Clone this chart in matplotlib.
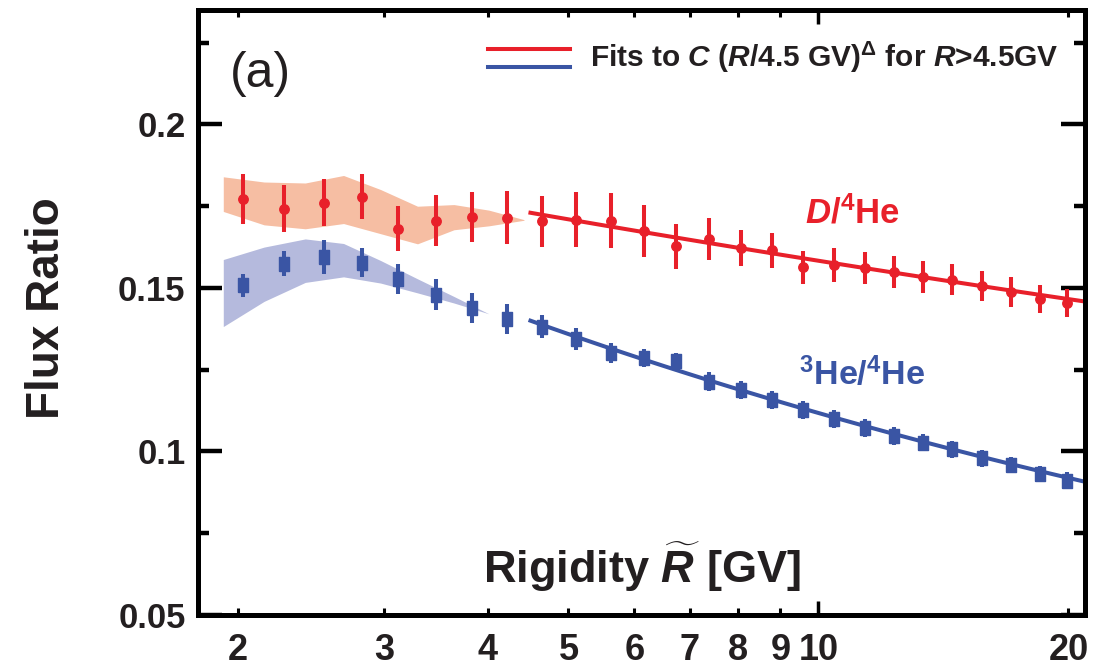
import numpy as np
import matplotlib.pyplot as plt

plt.rcParams['font.family'] = ['Liberation Sans', 'DejaVu Sans']
plt.rcParams['font.weight'] = 'bold'
plt.rcParams['mathtext.fontset'] = 'custom'
plt.rcParams['mathtext.rm'] = 'Liberation Sans:bold'
plt.rcParams['mathtext.it'] = 'Liberation Sans:italic:bold'
plt.rcParams['mathtext.bf'] = 'Liberation Sans:bold'

# rigidity bin centres [GV]
rigidity = [2.03, 2.27, 2.54, 2.82, 3.12, 3.46, 3.83, 4.22,
            4.65, 5.11, 5.62, 6.16, 6.73, 7.38, 8.07, 8.79, 9.58,
            10.43, 11.37, 12.34, 13.36, 14.49, 15.73, 17.05, 18.46, 19.94]

# D/4He
d_ratio = [0.1773, 0.1743, 0.1761, 0.1779, 0.1681, 0.1706, 0.1718, 0.1715,
           0.1704, 0.1709, 0.1706, 0.1675, 0.1627, 0.1650, 0.1622, 0.1615, 0.1563,
           0.1571, 0.1561, 0.1548, 0.1535, 0.1525, 0.1507, 0.1487, 0.1467, 0.1454]
d_err = [0.0077, 0.0072, 0.0073, 0.0069, 0.0069, 0.0078, 0.0077, 0.0081,
         0.0078, 0.0083, 0.0083, 0.0080, 0.0070, 0.0064, 0.0055, 0.0054, 0.0051,
         0.0052, 0.0049, 0.0049, 0.0049, 0.0047, 0.0046, 0.0046, 0.0043, 0.0043]

# 3He/4He
he3_ratio = [0.1508, 0.1574, 0.1595, 0.1577, 0.1528, 0.1479, 0.1439, 0.1405,
             0.1382, 0.1344, 0.1301, 0.1286, 0.1278, 0.1214, 0.1189, 0.1158, 0.1127,
             0.1099, 0.1071, 0.1048, 0.1027, 0.1007, 0.0980, 0.0959, 0.0932, 0.0911]
he3_err = [0.0036, 0.0038, 0.0051, 0.0044, 0.0046, 0.0047, 0.0046, 0.0046,
           0.0034, 0.0034, 0.0031, 0.0027, 0.0023, 0.0028, 0.0028, 0.0027, 0.0027,
           0.0027, 0.0027, 0.0027, 0.0026, 0.0026, 0.0026, 0.0025, 0.0025, 0.0025]

# low rigidity bands
band_r = [1.92, 2.15, 2.41, 2.68, 2.97, 3.29, 3.64, 4.01, 4.42]
d_band_hi = [0.1840, 0.1824, 0.1821, 0.1844, 0.1801, 0.1750, 0.1755, 0.1738, 0.1709]
d_band_lo = [0.1734, 0.1693, 0.1681, 0.1697, 0.1666, 0.1635, 0.1678, 0.1690, 0.1707]
he3_band_r = [1.92, 2.15, 2.41, 2.68, 2.97, 3.29, 3.64, 4.01]
he3_band_hi = [0.1587, 0.1625, 0.1650, 0.1636, 0.1584, 0.1528, 0.1474, 0.1421]
he3_band_lo = [0.1382, 0.1459, 0.1517, 0.1534, 0.1515, 0.1485, 0.1454, 0.1421]

# power law fits C (R/4.5 GV)^Delta
d_fit = (0.173, -0.111)
he3_fit = (0.140, -0.282)

red = '#e8202a'
blue = '#3a55a4'
dark = '#231f20'

fig = plt.figure(figsize=(11.05, 6.72), dpi=100)
ax = fig.add_axes([198 / 1105, 1 - 615 / 672, 887 / 1105, 605 / 672])

ax.fill_between(band_r, d_band_lo, d_band_hi, color='#f6bea3', lw=0, zorder=1)
ax.fill_between(he3_band_r, he3_band_lo, he3_band_hi, color='#b5badd', lw=0, zorder=1)

rfit = np.geomspace(4.5, 22, 100)
ax.plot(rfit, d_fit[0] * (rfit / 4.5) ** d_fit[1], color=red, lw=2.9, zorder=2)
ax.plot(rfit, he3_fit[0] * (rfit / 4.5) ** he3_fit[1], color=blue, lw=2.9, zorder=2)

ax.errorbar(rigidity, d_ratio, yerr=d_err, fmt='o', color=red, ms=6.8,
            elinewidth=2.9, capsize=0, zorder=3)
rect = [(-0.38, -0.5), (0.38, -0.5), (0.38, 0.5), (-0.38, 0.5), (-0.38, -0.5)]
ax.errorbar(rigidity, he3_ratio, yerr=he3_err, fmt='none', ecolor=blue,
            elinewidth=2.9, capsize=0, zorder=3)
ax.plot(rigidity, he3_ratio, ls='none', marker=rect, ms=9.5, color=blue, zorder=4)

ax.set_xscale('log')
ax.set_xlim(1.79, 20.94)
ax.set_ylim(0.05, 0.235)

ax.set_xticks([10], labels=['10'])
minor_x = [2, 3, 4, 5, 6, 7, 8, 9, 20]
ax.set_xticks(minor_x, labels=[str(v) for v in minor_x], minor=True)
ax.set_yticks([0.05, 0.1, 0.15, 0.2], labels=['0.05', '0.1', '0.15', '0.2'])
ax.set_yticks([0.075, 0.125, 0.175, 0.225], minor=True)

for s in ax.spines.values():
    s.set_linewidth(3.6)
ax.tick_params(axis='both', which='both', direction='in', top=True, right=True,
               colors='black', labelcolor=dark)
ax.tick_params(axis='y', which='major', length=17, width=3.2, labelsize=25, pad=9)
ax.tick_params(axis='y', which='minor', length=8, width=3.2)
ax.tick_params(axis='x', which='major', length=10, width=2.5, labelsize=26, pad=13)
ax.tick_params(axis='x', which='minor', length=5, width=2.2, labelsize=26, pad=13)

fig.text(47 / 1105, 1 - 308 / 672, 'Flux Ratio', rotation=90, ha='center',
         va='center', fontsize=33, color=dark)
ax.text(0.5, 0.053, r'Rigidity $\widetilde{R}$ [GV]', transform=ax.transAxes,
        ha='center', va='baseline', fontsize=32.5, color=dark)
ax.text(0.036, 0.895, '(a)', transform=ax.transAxes, ha='left', va='center',
        fontsize=36, fontweight='normal', color=dark)

ax.plot([0.327, 0.419], [0.9355, 0.9355], transform=ax.transAxes, color=red, lw=2.9)
ax.plot([0.327, 0.419], [0.906, 0.906], transform=ax.transAxes, color=blue, lw=2.9)
ax.text(0.442, 0.921, r'Fits to $C$ ($R$/4.5 GV)$^{\Delta}$ for $R$>4.5GV',
        transform=ax.transAxes, ha='left', va='center', fontsize=21.5, color=dark)

ax.text(0.684, 0.648, r'$D$/$^{4}$He', transform=ax.transAxes, ha='left',
        va='baseline', fontsize=25, color=red)
ax.text(0.678, 0.380, r'$^{3}$He/$^{4}$He', transform=ax.transAxes, ha='left',
        va='baseline', fontsize=24.5, color=blue)

fig.savefig('out.png', dpi=100)
